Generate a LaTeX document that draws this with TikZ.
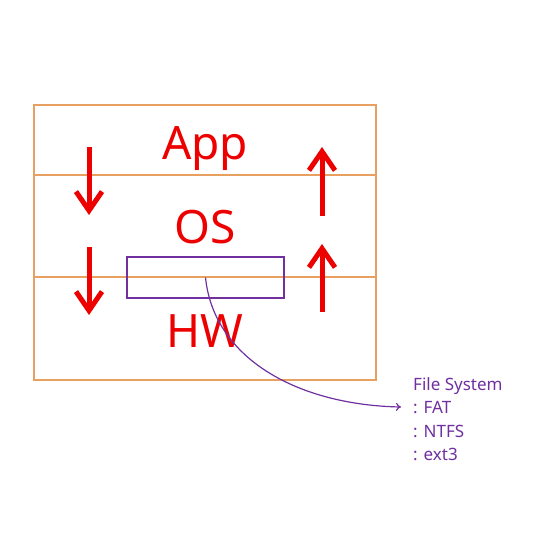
\documentclass[tikz,border=0pt]{standalone}
\usepackage{fontspec}
\setmainfont{Noto Sans}
\usetikzlibrary{arrows.meta,positioning}
\definecolor{layerorange}{RGB}{232,160,96}
\definecolor{flowred}{RGB}{236,0,0}
\definecolor{fspurple}{RGB}{112,48,160}

\begin{document}
\begin{tikzpicture}[x=1pt,y=-1pt,
  frame/.style={draw=layerorange,line width=1.5pt,minimum width=342pt,minimum height=275pt,inner sep=0pt},
  layer text/.style={text=flowred,font=\fontsize{46}{46}\selectfont,anchor=base},
  flow arrow/.style={draw=flowred,line width=5pt,-{Straight Barb[length=19pt,width=26pt,line width=5pt]}},
  fs box/.style={draw=fspurple,line width=1.5pt,minimum width=157pt,minimum height=41pt,inner sep=0pt}]

  \useasboundingbox (0,0) rectangle (550,550);

  % frame with the three layers
  \node[frame] (stack) at (205,242.5) {};
  \draw[layerorange,line width=1.5pt] (stack.west |- 0,175) -- (stack.east |- 0,175);
  \draw[layerorange,line width=1.5pt] (stack.west |- 0,277) -- (stack.east |- 0,277);

  \node[layer text] (app) at (205,159) {App};
  \node[layer text] (os) at (205,243) {OS};
  \node[layer text] (hw) at (205,347) {HW};

  % file system box
  \node[fs box] (fs) at (205.5,277.5) {};

  % requests down, answers up
  \coordinate (down1a) at (89,147);  \coordinate (down1b) at (89,215);
  \coordinate (down2a) at (89,247);  \coordinate (down2b) at (89,315);
  \coordinate (up1a) at (322,216);   \coordinate (up1b) at (322,147);
  \coordinate (up2a) at (322,312);   \coordinate (up2b) at (322,244);
  \draw[flow arrow] (down1a) -- (down1b);
  \draw[flow arrow] (down2a) -- (down2b);
  \draw[flow arrow] (up1a) -- (up1b);
  \draw[flow arrow] (up2a) -- (up2b);

  \node[text=fspurple,font=\fontsize{17}{23.5}\selectfont,align=left,anchor=north west,inner sep=0pt]
    (fslabel) at (413,377) {File System\\: FAT\\: NTFS\\: ext3};
  \coordinate (fsend) at (401,407);

  \draw[fspurple,line width=1.2pt,-{To[length=5pt,width=8pt]}]
    (fs.center) .. controls (214,360) and (300,405) .. (fsend);
\end{tikzpicture}
\end{document}
